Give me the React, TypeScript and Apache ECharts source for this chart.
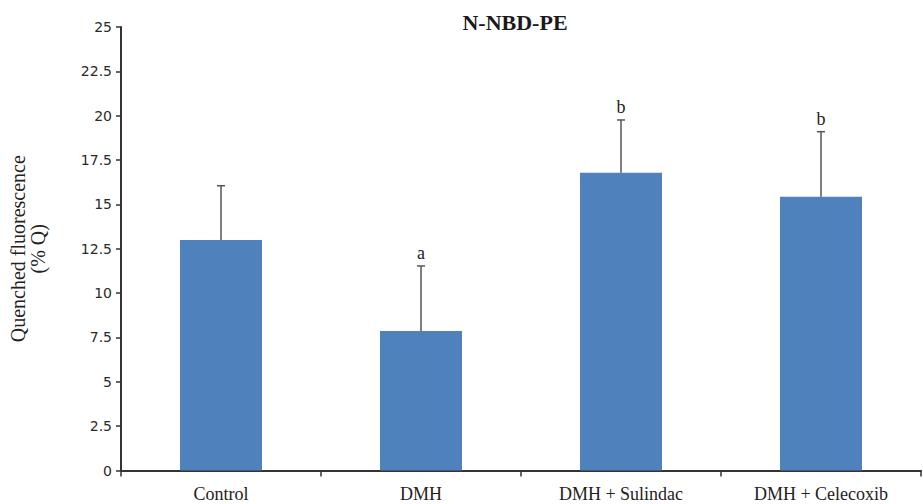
import React, { useEffect, useRef } from "react";
import * as echarts from "echarts";

const categories = ["Control", "DMH", "DMH + Sulindac", "DMH + Celecoxib"];
const means = [13.0, 7.86, 16.79, 15.43];
const upperErrors = [16.05, 11.53, 19.76, 19.1];
const sigLetters = ["", "a", "b", "b"];

const SERIF = "Liberation Serif";
const TICK_FONT = "DejaVu Sans";

export default function App() {
  const ref = useRef<HTMLDivElement>(null);

  useEffect(() => {
    if (!ref.current) return;
    const chart = echarts.init(ref.current, null, { renderer: "svg" });

    const errData = categories.map((_, i) => [i, means[i], upperErrors[i]]);

    chart.setOption({
      animation: false,
      backgroundColor: "#ffffff",
      title: {
        text: "N-NBD-PE",
        left: 510,
        top: 6,
        textAlign: "center",
        textStyle: { fontFamily: SERIF, fontSize: 22, fontWeight: "bold", color: "#1a1a1a" },
      },
      grid: { left: 113, right: 2, top: 27, bottom: 33.5, containLabel: false },
      xAxis: {
        type: "category",
        data: categories,
        axisLine: { lineStyle: { color: "#333", width: 2 } },
        axisTick: { show: true, length: 6, lineStyle: { color: "#333", width: 1.5 } },
        axisLabel: { interval: 0, fontFamily: SERIF, fontSize: 18, color: "#222", margin: 14 },
      },
      yAxis: {
        type: "value",
        min: 0,
        max: 25,
        interval: 2.5,
        name: "Quenched fluorescence\n(% Q)",
        nameLocation: "middle",
        nameGap: 73,
        nameRotate: 90,
        nameTextStyle: { fontFamily: SERIF, fontSize: 20, color: "#222", lineHeight: 20 },
        splitLine: { show: false },
        axisLine: { show: true, lineStyle: { color: "#333", width: 2 } },
        axisTick: { show: true, length: 5, lineStyle: { color: "#333", width: 1.5 } },
        axisLabel: { fontFamily: TICK_FONT, fontSize: 14, color: "#2a2a2a", margin: 9 },
      },
      series: [
        {
          type: "bar",
          data: means,
          barWidth: "41%",
          itemStyle: { color: "#4F81BD" },
        },
        {
          type: "custom",
          data: errData,
          z: 5,
          renderItem: (params: any, api: any) => {
            const i = api.value(0);
            const top = api.coord([i, api.value(1)]);
            const hi = api.coord([i, api.value(2)]);
            const letter = sigLetters[params.dataIndex];
            const children: any[] = [
              {
                type: "line",
                shape: { x1: top[0], y1: top[1], x2: hi[0], y2: hi[1] },
                style: { stroke: "#555", lineWidth: 1.5 },
              },
              {
                type: "line",
                shape: { x1: hi[0] - 4, y1: hi[1], x2: hi[0] + 4, y2: hi[1] },
                style: { stroke: "#555", lineWidth: 1.5 },
              },
            ];
            if (letter) {
              children.push({
                type: "text",
                style: {
                  x: hi[0],
                  y: hi[1] - 4,
                  text: letter,
                  fill: "#222",
                  font: `18px ${SERIF}`,
                  align: "center",
                  verticalAlign: "bottom",
                },
              });
            }
            return { type: "group", children };
          },
        },
      ],
    });

    return () => chart.dispose();
  }, []);

  return (
    <div
      ref={ref}
      style={{ position: "absolute", left: 0, top: 0, width: 923, height: 504 }}
    />
  );
}
